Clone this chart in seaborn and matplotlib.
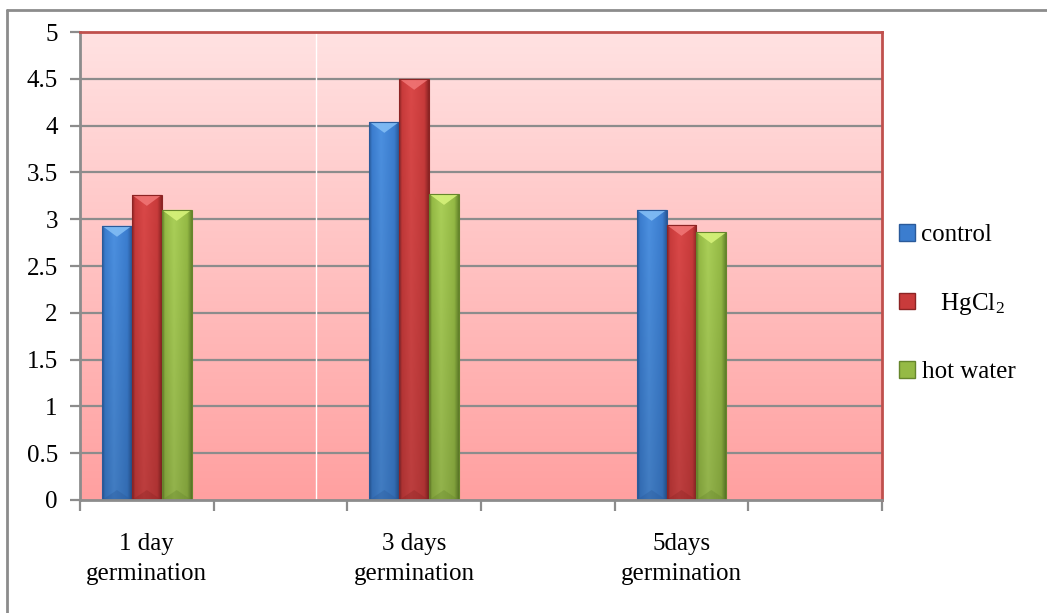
import numpy as np
import pandas as pd
import matplotlib
matplotlib.use("Agg")
import matplotlib.pyplot as plt
import seaborn as sns
from matplotlib.patches import Polygon, Patch
from matplotlib.lines import Line2D
from matplotlib.colors import to_rgb

# ---- data ----
periods = ["1 day\ngermination", "3 days\ngermination", "5days\ngermination"]
treatments = ["control", "HgCl2", "hot water"]
control = [2.93, 4.04, 3.10]
hgcl2 = [3.26, 4.50, 2.94]
hot_water = [3.10, 3.27, 2.86]
legend_labels = ["control", "   HgCl$_2$", "hot water"]
y_ticks = [0, 0.5, 1, 1.5, 2, 2.5, 3, 3.5, 4, 4.5, 5]

df = pd.DataFrame({
    "period": periods * 3,
    "treatment": [t for t in treatments for _ in periods],
    "value": control + hgcl2 + hot_water,
})

# spacer slots between the periods
order = [periods[0], " ", periods[1], "  ", periods[2], "   "]

# ---- styling ----
sns.set_style("white")
plt.rcParams["font.family"] = ["Liberation Serif", "DejaVu Serif"]
plt.rcParams["mathtext.fontset"] = "custom"
plt.rcParams["mathtext.rm"] = "Liberation Serif"
plt.rcParams["mathtext.it"] = "Liberation Serif:italic"
plt.rcParams["text.color"] = "black"
plt.rcParams["xtick.labelcolor"] = "black"
plt.rcParams["ytick.labelcolor"] = "black"

base = {"control": "#3B7DCF", "HgCl2": "#C93B3B", "hot water": "#95BA45"}
dark = {"control": "#2A5A9A", "HgCl2": "#8C2424", "hot water": "#66862C"}
light = {"control": "#4C90E0", "HgCl2": "#DA4848", "hot water": "#AACF58"}
top_hi = {"control": "#82BDF5", "HgCl2": "#F07474", "hot water": "#D6F27A"}

fig = plt.figure(figsize=(10.47, 6.13), dpi=100)
ax = fig.add_axes([80 / 1047, 1 - 500 / 613, (882 - 80) / 1047, (500 - 32) / 613])

sns.barplot(data=df, x="period", y="value", hue="treatment", order=order,
            hue_order=treatments, palette=base, width=0.67, gap=0,
            legend=False, ax=ax, zorder=3, linewidth=0)

ax.set_xlim(-0.5, 5.5)
ax.set_ylim(0, 5)

# pink vertical gradient background
grad = np.linspace(0, 1, 256)[:, None]
top_c = np.array([255, 226, 226]) / 255
bot_c = np.array([255, 160, 160]) / 255
bg = top_c[None, None, :] * (1 - grad[..., None]) + bot_c[None, None, :] * grad[..., None]
ax.imshow(bg, extent=[-0.5, 5.5, 0, 5], aspect="auto", zorder=0, origin="upper")

# horizontal gridlines
for v in y_ticks[1:-1]:
    ax.axhline(v, color="#8C8C8C", lw=1.6, zorder=1)
ax.axvline(1.269, color="white", lw=1.0, zorder=1)

# shaded bevelled bars
px_y = 5 / 468.0
for cont, t in zip(ax.containers, treatments):
    c_d, c_b, c_l = (np.array(to_rgb(c)) for c in (dark[t], base[t], light[t]))
    xs = np.linspace(0, 1, 64)
    prof = np.empty((64, 3))
    for i, s in enumerate(xs):
        if s < 0.1:
            prof[i] = c_d + (c_b - c_d) * s / 0.1
        elif s < 0.4:
            prof[i] = c_b + (c_l - c_b) * (s - 0.1) / 0.3
        elif s < 0.85:
            prof[i] = c_l + (c_b - c_l) * (s - 0.4) / 0.45
        else:
            prof[i] = c_b + (c_d - c_b) * (s - 0.85) / 0.15
    vert = np.linspace(1.0, 0.86, 64)[:, None, None]
    img = np.clip(prof[None, :, :] * vert, 0, 1)
    for p in cont.patches:
        h = p.get_height()
        if not np.isfinite(h) or h <= 0:
            continue
        x0, w = p.get_x(), p.get_width()
        im = ax.imshow(img, extent=[x0, x0 + w, 0, h], aspect="auto",
                       zorder=3.5, origin="upper")
        im.set_clip_path(p)
        d = 11 * px_y
        ax.add_patch(Polygon([[x0, h], [x0 + w, h], [x0 + w * 0.5, h - d]],
                             closed=True, facecolor=top_hi[t], edgecolor="none",
                             alpha=0.9, zorder=4))
        ax.add_patch(Polygon([[x0, 0], [x0 + w, 0], [x0 + w * 0.5, 10 * px_y]],
                             closed=True, facecolor=c_d, alpha=0.35,
                             edgecolor="none", zorder=4))
        ax.add_patch(Polygon([[x0, 0], [x0, h], [x0 + w, h], [x0 + w, 0]], closed=True,
                             facecolor="none", edgecolor=dark[t], lw=0.8, zorder=4.5))

# axes, ticks and labels
for s in ("left", "bottom"):
    ax.spines[s].set_color("#8C8C8C")
    ax.spines[s].set_linewidth(2)
for s in ("top", "right"):
    ax.spines[s].set_color("#C0504D")
    ax.spines[s].set_linewidth(2)
for s in ax.spines.values():
    s.set_zorder(6)

ax.set_yticks(y_ticks)
ax.set_yticklabels([f"{v:g}" for v in y_ticks], fontsize=18)
ax.tick_params(axis="y", direction="out", length=7, width=1.6, color="#8C8C8C",
               pad=9, left=True)

ax.set_xticks(np.arange(-0.5, 6.0, 1.0))
ax.set_xticklabels([""] * 7)
ax.set_xticks(np.arange(6), minor=True)
ax.set_xticklabels([periods[0], "", periods[1], "", periods[2], ""], minor=True,
                   fontsize=18, linespacing=1.45)
ax.tick_params(axis="x", which="major", direction="out", length=8, width=1.6,
               color="#8C8C8C", bottom=True)
ax.tick_params(axis="x", which="minor", length=0, pad=24)
ax.set_xlabel("")
ax.set_ylabel("")

# legend
handles = [Patch(facecolor=base[t], edgecolor=dark[t], lw=1) for t in treatments]
fig.legend(handles, legend_labels, loc="upper left",
           bbox_to_anchor=(889 / 1047, 1 - 214 / 613), frameon=False,
           fontsize=18, handlelength=0.65, handleheight=0.65,
           handletextpad=0.25, labelspacing=1.78, borderaxespad=0)

# outer chart border
fig.add_artist(Line2D([7 / 1047, 1], [1 - 10 / 613, 1 - 10 / 613],
                      transform=fig.transFigure, color="#8C8C8C", lw=2))
fig.add_artist(Line2D([7 / 1047, 7 / 1047], [0, 1 - 10 / 613],
                      transform=fig.transFigure, color="#8C8C8C", lw=2))

fig.savefig("out.png", dpi=100)
